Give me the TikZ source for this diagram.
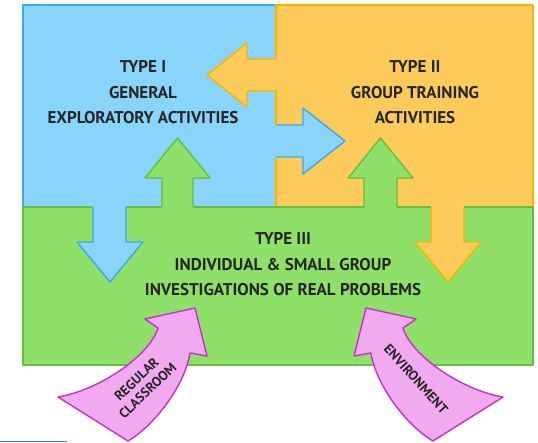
\documentclass[tikz,border=0pt]{standalone}
\usepackage{fontspec}
\newfontfamily\markerfont{PT Sans}
\usepackage{tikz}
\usepackage{xcolor}
\definecolor{skyfill}{HTML}{88D4FB}
\definecolor{skyline}{HTML}{3DA9E8}
\definecolor{sunfill}{HTML}{FCCB59}
\definecolor{sunline}{HTML}{F7B500}
\definecolor{grassfill}{HTML}{8FE068}
\definecolor{grassline}{HTML}{66BF3F}
\definecolor{pinkfill}{HTML}{F1AAEF}
\definecolor{pinkline}{HTML}{C930C9}
\definecolor{inkgray}{HTML}{262626}
\definecolor{deepblue}{HTML}{3A7BD5}

\begin{document}
\begin{tikzpicture}[x=1pt, y=-1pt, line join=round,
		edge/.style={line width=1.4pt},
		boxtext/.style={font=\markerfont\bfseries\fontsize{17}{25.5}\selectfont, text=inkgray, align=center},
		arrowtext/.style={font=\markerfont\bfseries\fontsize{13.5}{16}\selectfont, text=inkgray, align=center}]
				\useasboundingbox (0, 0) rectangle (538, 442);
				\fill[skyfill] (23, 5) rectangle (276, 207);
				\fill[sunfill] (276, 5) rectangle (533, 207);
				\fill[grassfill] (23, 207) rectangle (533, 365);
				\draw[edge, skyline] (23, 5) rectangle (276, 207);
				\draw[edge, sunline] (276, 5) rectangle (533, 207);
				\draw[edge, grassline] (23, 207) rectangle (533, 365);
				\fill[sunfill] (280, 59) -- (247, 59) -- (247, 43) -- (207, 75) -- (247, 107) -- (247, 91) -- (280, 91) -- cycle;
				\draw[edge, sunline] (276, 59) -- (247, 59) -- (247, 43) -- (207, 75) -- (247, 107) -- (247, 91) -- (276, 91);
				\fill[skyfill] (272, 125) -- (303, 125) -- (303, 108) -- (345, 141) -- (303, 174) -- (303, 157) -- (272, 157) -- cycle;
				\draw[edge, skyline] (276, 125) -- (303, 125) -- (303, 108) -- (345, 141) -- (303, 174) -- (303, 157) -- (276, 157);
				\fill[grassfill] (162, 211) -- (162, 178) -- (145, 178) -- (177.5, 138) -- (210, 178) -- (193, 178) -- (193, 211) -- cycle;
				\draw[edge, grassline] (162, 207) -- (162, 178) -- (145, 178) -- (177.5, 138) -- (210, 178) -- (193, 178) -- (193, 207);
				\fill[grassfill] (364, 211) -- (364, 178) -- (348, 178) -- (380.5, 138) -- (413, 178) -- (397, 178) -- (397, 211) -- cycle;
				\draw[edge, grassline] (364, 207) -- (364, 178) -- (348, 178) -- (380.5, 138) -- (413, 178) -- (397, 178) -- (397, 207);
				\fill[skyfill] (93, 203) -- (93, 242) -- (77, 242) -- (110, 282) -- (143, 242) -- (126, 242) -- (126, 203) -- cycle;
				\draw[edge, skyline] (93, 207) -- (93, 242) -- (77, 242) -- (110, 282) -- (143, 242) -- (126, 242) -- (126, 207);
				\fill[sunfill] (431, 203) -- (431, 242) -- (415, 242) -- (448, 282) -- (481, 242) -- (464, 242) -- (464, 203) -- cycle;
				\draw[edge, sunline] (431, 207) -- (431, 242) -- (415, 242) -- (448, 282) -- (481, 242) -- (464, 242) -- (464, 207);
				\filldraw[edge, draw=pinkline, fill=pinkfill] (58, 397) .. controls (100, 390) and (150, 355) .. (158, 328) -- (145, 319) -- (195, 308) -- (207, 356) -- (190, 353) .. controls (185, 385) and (155, 425) .. (128, 441) -- cycle;
				\filldraw[edge, draw=pinkline, fill=pinkfill] (503, 397) .. controls (461, 390) and (411, 355) .. (403, 328) -- (416, 319) -- (366, 308) -- (354, 356) -- (371, 353) .. controls (376, 385) and (406, 425) .. (433, 441) -- cycle;
				\draw[line width=1pt, deepblue] (0, 441.5) -- (67, 441.5);
				\node[boxtext] (typeone) at (143, 92.5) {TYPE I\\GENERAL\\EXPLORATORY ACTIVITIES};
				\node[boxtext] (typetwo) at (415, 92.5) {TYPE II\\GROUP TRAINING\\ACTIVITIES};
				\node[boxtext] (typethree) at (283, 264.5) {TYPE III\\INDIVIDUAL \& SMALL GROUP\\INVESTIGATIONS OF REAL PROBLEMS};
				\node[arrowtext, rotate=44] (classroom) at (142, 385) {REGULAR\\CLASSROOM};
				\node[arrowtext, rotate=-48] (environment) at (416, 379) {ENVIRONMENT};
			\end{tikzpicture}
\end{document}
